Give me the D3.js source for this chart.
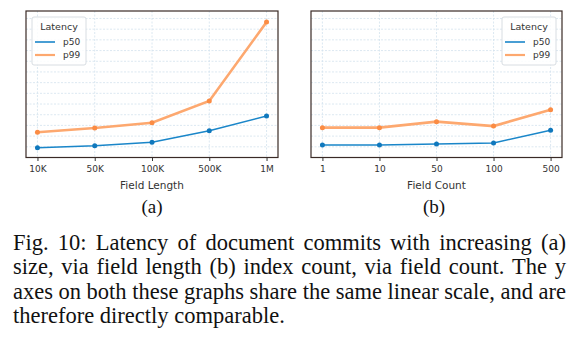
<!DOCTYPE html>
<html>
<head>
<meta charset="utf-8">
<script src="https://cdn.jsdelivr.net/npm/d3@7"></script>
<style>
  body { margin: 0; background: #fff; }
  svg { display: block; }
</style>
</head>
<body>
<svg width="583" height="345"></svg>
<script>
// values (arbitrary latency units, y axis unlabelled)
var lengthLabels = ['10K', '50K', '100K', '500K', '1M'];
var lengthP50 = [0.92, 1.10, 1.42, 2.50, 3.88];
var lengthP99 = [2.36, 2.76, 3.25, 5.28, 12.66];

var countLabels = ['1', '10', '50', '100', '500'];
var countP50 = [1.17, 1.17, 1.26, 1.36, 2.54];
var countP99 = [2.79, 2.79, 3.35, 2.94, 4.47];

var seriesNames = ['p50', 'p99'];
var captionLines = [
  'Fig. 10: Latency of document commits with increasing (a)',
  'size, via field length (b) index count, via field count. The y',
  'axes on both these graphs share the same linear scale, and are',
  'therefore directly comparable.'
];

var colors = { p50: '#1a86c9', p99: '#fda86f' };
var dotColors = { p50: '#0f78bd', p99: '#fb8c44' };
var yMax = 13.7;

var svg = d3.select('svg');

function panel(opts) {
  var g = svg.append('g');
  var x = d3.scalePoint().domain(opts.labels).range([opts.x0, opts.x1]).padding(0.2);
  // shared linear y scale for both graphs
  var y = d3.scaleLinear().domain([0, yMax]).range([opts.y1, opts.y0]);

  // grid
  g.append('g')
    .selectAll('line')
    .data(d3.range(1, 14))
    .enter().append('line')
    .attr('x1', opts.x0).attr('x2', opts.x1)
    .attr('y1', d => y(d)).attr('y2', d => y(d))
    .attr('stroke', '#d3e2ee')
    .attr('stroke-width', 0.8)
    .attr('stroke-dasharray', '2,1.5');
  g.append('g')
    .selectAll('line')
    .data(opts.labels)
    .enter().append('line')
    .attr('x1', d => x(d)).attr('x2', d => x(d))
    .attr('y1', opts.y0).attr('y2', opts.y1)
    .attr('stroke', '#d3e2ee')
    .attr('stroke-width', 0.8)
    .attr('stroke-dasharray', '2,1.5');

  var xAxis = d3.axisBottom(x).tickSize(3.5).tickPadding(5);
  var gx = g.append('g')
    .attr('transform', 'translate(0,' + opts.y1 + ')')
    .call(xAxis);
  gx.select('.domain').remove();
  gx.selectAll('line').attr('stroke', '#333');
  gx.selectAll('text')
    .attr('fill', '#333')
    .style('font-family', 'DejaVu Sans')
    .style('font-size', '9px');

  g.append('text')
    .attr('x', (opts.x0 + opts.x1) / 2)
    .attr('y', opts.y1 + 31)
    .attr('text-anchor', 'middle')
    .attr('fill', '#333')
    .style('font-family', 'DejaVu Sans')
    .style('font-size', '10.5px')
    .text(opts.title);

  var line = d3.line()
    .x((d, i) => x(opts.labels[i]))
    .y(d => y(d));

  [['p99', opts.p99, 2.6], ['p50', opts.p50, 1.5]].forEach(function(s) {
    g.append('path')
      .datum(s[1])
      .attr('d', line)
      .attr('fill', 'none')
      .attr('stroke', colors[s[0]])
      .attr('stroke-width', s[2]);
    g.selectAll('circle.' + s[0])
      .data(s[1])
      .enter().append('circle')
      .attr('class', s[0])
      .attr('cx', (d, i) => x(opts.labels[i]))
      .attr('cy', d => y(d))
      .attr('r', 2.5)
      .attr('fill', dotColors[s[0]]);
  });

  // frame
  g.append('rect')
    .attr('x', opts.x0).attr('y', opts.y0)
    .attr('width', opts.x1 - opts.x0)
    .attr('height', opts.y1 - opts.y0)
    .attr('fill', 'none')
    .attr('stroke', '#3a2a26')
    .attr('stroke-width', 1.2);

  // legend
  var lg = g.append('g').attr('transform', 'translate(' + opts.legX + ',' + (opts.y0 + 6) + ')');
  lg.append('rect')
    .attr('width', 54).attr('height', 48).attr('rx', 2)
    .attr('fill', 'rgba(255,255,255,0.85)')
    .attr('stroke', '#d8dde2');
  lg.append('text')
    .attr('x', 27).attr('y', 13)
    .attr('text-anchor', 'middle')
    .attr('fill', '#333')
    .style('font-family', 'DejaVu Sans')
    .style('font-size', '9.5px')
    .text('Latency');
  seriesNames.forEach(function(n, i) {
    var yy = 25 + i * 13;
    lg.append('line')
      .attr('x1', 3).attr('x2', 23)
      .attr('y1', yy).attr('y2', yy)
      .attr('stroke', colors[n])
      .attr('stroke-width', n === 'p99' ? 2.2 : 1.6);
    lg.append('text')
      .attr('x', 31).attr('y', yy + 3)
      .attr('fill', '#333')
      .style('font-family', 'DejaVu Sans')
      .style('font-size', '9px')
      .text(n);
  });

  svg.append('text')
    .attr('x', opts.subX).attr('y', 213)
    .attr('text-anchor', 'middle')
    .attr('fill', '#111')
    .style('font-family', 'Liberation Serif')
    .style('font-size', '19px')
    .text(opts.sub);
}

panel({ labels: lengthLabels, p50: lengthP50, p99: lengthP99,
  x0: 26, x1: 278, y0: 11, y1: 157.5, legX: 32, title: 'Field Length', sub: '(a)', subX: 152 });
panel({ labels: countLabels, p50: countP50, p99: countP99,
  x0: 311, x1: 562, y0: 11, y1: 157.5, legX: 502, title: 'Field Count', sub: '(b)', subX: 434 });

// caption, justified by spreading the words
var capLeft = 13, capWidth = 553, capSize = 22.5;
captionLines.forEach(function(t, i) {
  var words = t.split(' ');
  var yy = 250 + i * 24.3;
  var nodes = words.map(function(w) {
    return svg.append('text')
      .attr('y', yy)
      .attr('fill', '#111')
      .style('font-family', 'Liberation Serif')
      .style('font-size', capSize + 'px')
      .text(w);
  });
  var widths = nodes.map(n => n.node().getComputedTextLength());
  var total = d3.sum(widths);
  var gap = i < captionLines.length - 1 ? (capWidth - total) / (words.length - 1) : capSize * 0.25;
  var xx = capLeft;
  nodes.forEach(function(n, j) {
    n.attr('x', xx);
    xx += widths[j] + gap;
  });
});
</script>
</body>
</html>
